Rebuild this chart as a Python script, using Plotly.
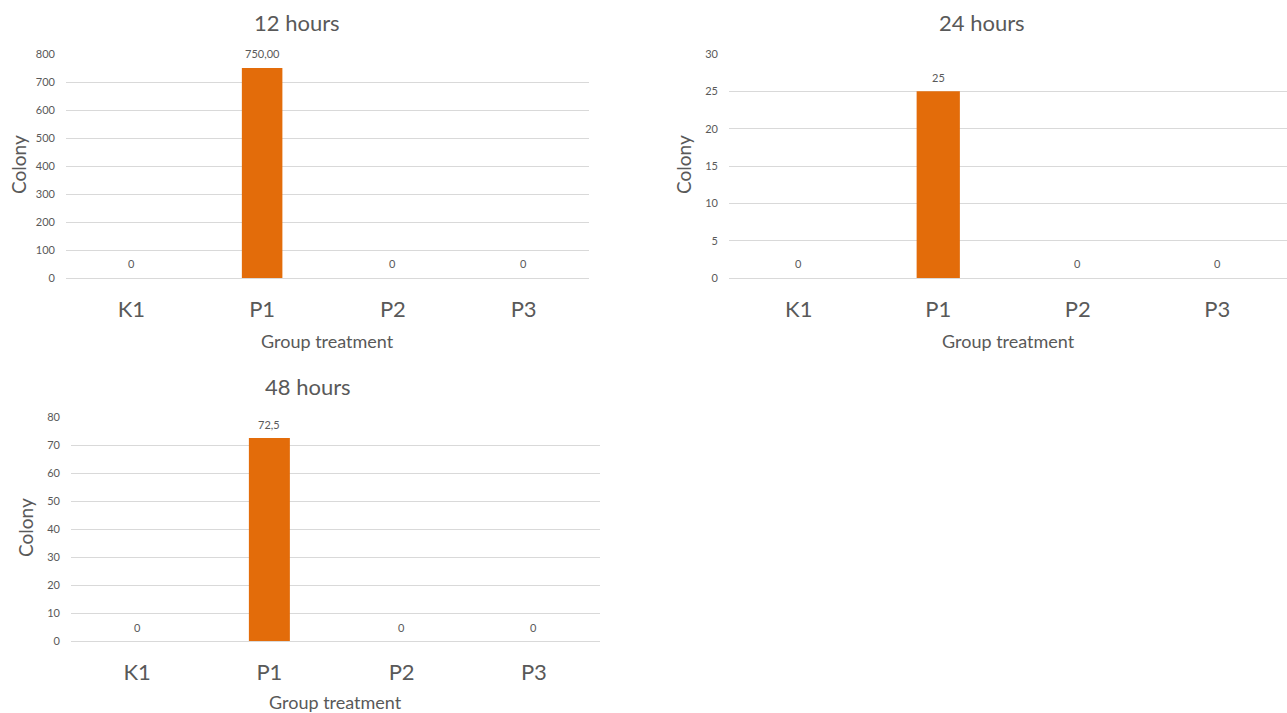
import plotly.graph_objects as go

# Colony counts per treatment group at each incubation time
groups = ["K1", "P1", "P2", "P3"]
colony_12h = [0, 750.0, 0, 0]
colony_24h = [0, 25, 0, 0]
colony_48h = [0, 72.5, 0, 0]

panel_titles = ["12 hours", "24 hours", "48 hours"]
label_decimals = [2, 0, 1]
y_max = [800, 30, 80]
y_step = [100, 5, 10]

W, H = 1287, 713
BAR = "#E36C0A"
GRID = "#D9D9D9"
TXT = "#595959"
FONT = "Lato, Open Sans, sans-serif"


def px_x(p):
    return p / W


def px_y(p):
    return 1 - p / H


def fmt(v, dec):
    if v == 0:
        return "0"
    return f"{v:.{dec}f}".replace(".", ",")


# Plot-area boxes in pixels: left, right, top (max gridline), bottom (zero line)
boxes = [
    (66, 589, 54, 278),
    (729, 1287, 54, 278),
    (71, 600, 417, 641),
]
title_dx = [-31, -26, -28]
xtitle_dy = [63, 63, 61]

series = [colony_12h, colony_24h, colony_48h]

fig = go.Figure()
annotations = []

for i, (vals, box) in enumerate(zip(series, boxes)):
    left, right, top, bottom = box
    n = "" if i == 0 else str(i + 1)
    fig.add_trace(go.Bar(
        x=groups, y=vals,
        xaxis="x" + n, yaxis="y" + n,
        marker=dict(color=BAR, line=dict(width=0)),
        width=0.31,
        showlegend=False,
        hoverinfo="x+y",
    ))
    # Value labels sitting just above each bar
    for g, v in zip(groups, vals):
        annotations.append(dict(
            text=fmt(v, label_decimals[i]), x=g, y=v,
            xref="x" + n, yref="y" + n, showarrow=False,
            xanchor="center", yanchor="middle", yshift=14,
            font=dict(size=11, color=TXT, family=FONT),
        ))
    xa = dict(
        domain=[px_x(left), px_x(right)],
        anchor="y" + n,
        automargin=False,
        showgrid=False, showline=False, zeroline=False,
        ticks="", ticklabelstandoff=16,
        tickfont=dict(size=22, color=TXT, family=FONT),
        fixedrange=True,
    )
    ya = dict(
        domain=[px_y(bottom), px_y(top)],
        anchor="x" + n,
        automargin=False,
        range=[0, y_max[i]],
        dtick=y_step[i], tick0=0,
        showgrid=True, gridcolor=GRID, gridwidth=1,
        zeroline=True, zerolinecolor=GRID, zerolinewidth=1,
        showline=False, ticks="", ticklabelstandoff=10,
        tickfont=dict(size=11, color=TXT, family=FONT),
        fixedrange=True,
    )
    fig.layout["xaxis" + n] = xa
    fig.layout["yaxis" + n] = ya

    cx = (left + right) / 2
    # Chart title
    annotations.append(dict(
        text=panel_titles[i], x=px_x(cx + title_dx[i]), y=px_y(top - 31),
        xref="paper", yref="paper", showarrow=False,
        xanchor="center", yanchor="middle",
        font=dict(size=22, color=TXT, family=FONT),
    ))
    # X axis title
    annotations.append(dict(
        text="Group treatment", x=px_x(cx), y=px_y(bottom + xtitle_dy[i]),
        xref="paper", yref="paper", showarrow=False,
        xanchor="center", yanchor="middle",
        font=dict(size=18, color=TXT, family=FONT),
    ))
    # Y axis title
    annotations.append(dict(
        text="Colony", x=px_x(left - 46 + (-2 if i == 0 else 0)), y=px_y((top + bottom) / 2 - 1),
        xref="paper", yref="paper", showarrow=False, textangle=-90,
        xanchor="center", yanchor="middle",
        font=dict(size=19, color=TXT, family=FONT),
    ))

fig.update_layout(
    width=W, height=H,
    margin=dict(l=0, r=0, t=0, b=0, autoexpand=False),
    paper_bgcolor="white", plot_bgcolor="white",
    annotations=annotations,
    font=dict(family=FONT, color=TXT),
)

fig.write_html("out.html")
